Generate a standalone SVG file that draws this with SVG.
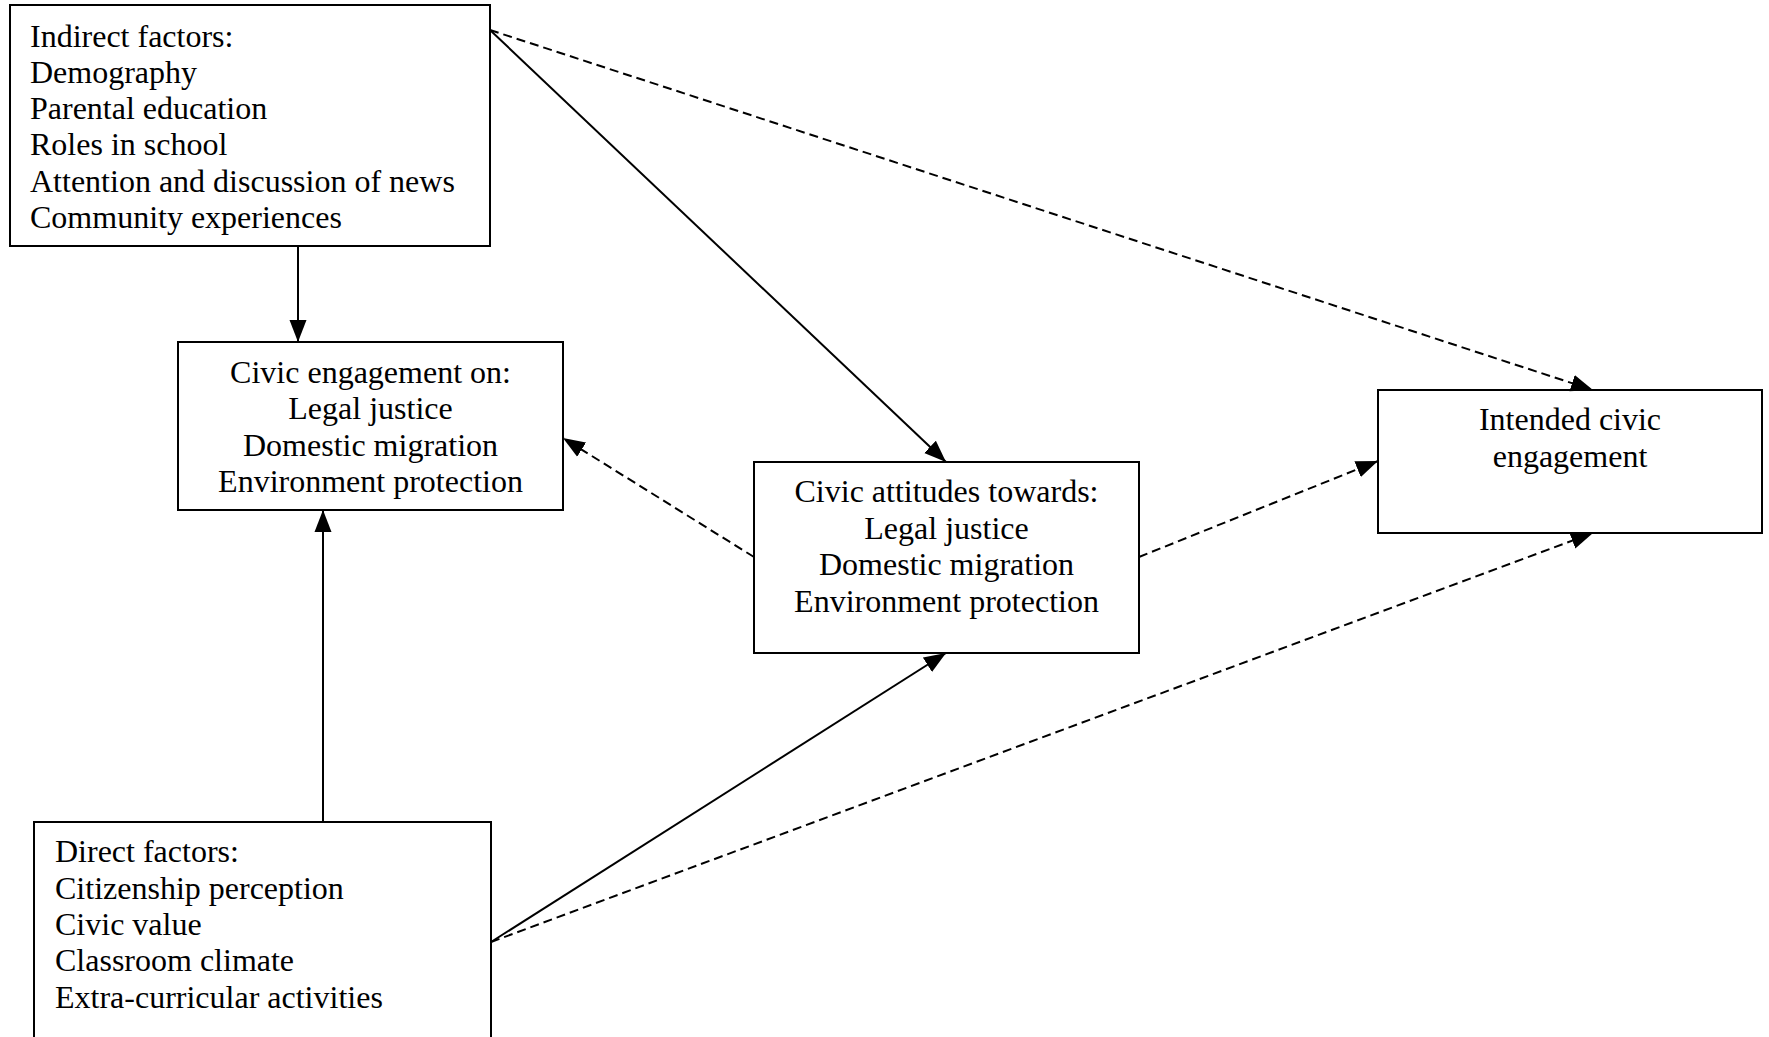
<svg xmlns="http://www.w3.org/2000/svg" width="1769" height="1037" viewBox="0 0 1769 1037">
<style>
.box{fill:#fff;stroke:#000;stroke-width:2}
.t{font-family:"Liberation Serif","Times New Roman",serif;font-size:32px;fill:#000}
.c{text-anchor:middle}
.ln{fill:none;stroke:#000;stroke-width:2;marker-end:url(#ah)}
.d{stroke-dasharray:9 5}
</style>
<defs>
<marker id="ah" markerUnits="userSpaceOnUse" markerWidth="22" markerHeight="18" refX="22" refY="9" orient="auto">
<path d="M0,0.5 L22,9 L0,17.5 z" fill="#000"/>
</marker>
</defs>
<rect width="1769" height="1037" fill="#fff"/>
<g id="indirect">
<rect class="box" x="10" y="5" width="480" height="241"/>
<text class="t" x="30" y="46.5">Indirect factors:</text>
<text class="t" x="30" y="82.8">Demography</text>
<text class="t" x="30" y="119.1">Parental education</text>
<text class="t" x="30" y="155.4">Roles in school</text>
<text class="t" x="30" y="191.7">Attention and discussion of news</text>
<text class="t" x="30" y="228">Community experiences</text>
</g>
<g id="engagement">
<rect class="box" x="178" y="342" width="385" height="168"/>
<text class="t c" x="370.5" y="383">Civic engagement on:</text>
<text class="t c" x="370.5" y="419.3">Legal justice</text>
<text class="t c" x="370.5" y="455.6">Domestic migration</text>
<text class="t c" x="370.5" y="492">Environment protection</text>
</g>
<g id="attitudes">
<rect class="box" x="754" y="462" width="385" height="191"/>
<text class="t c" x="946.5" y="502">Civic attitudes towards:</text>
<text class="t c" x="946.5" y="538.5">Legal justice</text>
<text class="t c" x="946.5" y="575">Domestic migration</text>
<text class="t c" x="946.5" y="611.5">Environment protection</text>
</g>
<g id="intended">
<rect class="box" x="1378" y="390" width="384" height="143"/>
<text class="t c" x="1570" y="430">Intended civic</text>
<text class="t c" x="1570" y="466.5">engagement</text>
</g>
<g id="direct">
<rect class="box" x="34" y="822" width="457" height="240"/>
<text class="t" x="55" y="862.3">Direct factors:</text>
<text class="t" x="55" y="898.6">Citizenship perception</text>
<text class="t" x="55" y="935">Civic value</text>
<text class="t" x="55" y="971.3">Classroom climate</text>
<text class="t" x="55" y="1007.6">Extra-curricular activities</text>
</g>
<g id="connectors">
<line class="ln" x1="298" y1="246" x2="298" y2="342"/>
<line class="ln" x1="490" y1="30" x2="946" y2="462"/>
<line class="ln d" x1="490" y1="30" x2="1593" y2="390"/>
<line class="ln d" x1="754" y1="557" x2="563" y2="438"/>
<line class="ln d" x1="1139" y1="557" x2="1378" y2="461"/>
<line class="ln" x1="323" y1="822" x2="323" y2="510"/>
<line class="ln" x1="491" y1="942" x2="946" y2="653"/>
<line class="ln d" x1="491" y1="942" x2="1593" y2="533"/>
</g>
</svg>
